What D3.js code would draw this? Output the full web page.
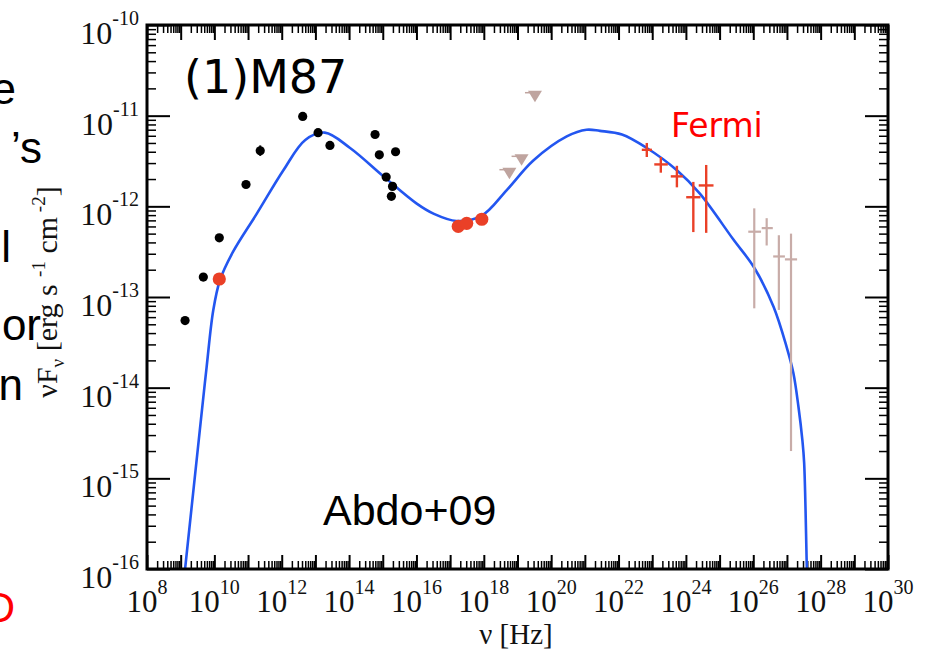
<!DOCTYPE html>
<html>
<head>
<meta charset="utf-8">
<script src="https://cdn.jsdelivr.net/npm/d3@7/dist/d3.min.js"></script>
<style>
  html, body { margin: 0; padding: 0; background: #fff; }
  svg { display: block; }
</style>
</head>
<body>
<svg id="chart" width="927" height="651"></svg>
<script>
// ---------------- DATA ----------------
const xDecades = d3.range(8, 31);            // 10^8 .. 10^30
const xLabelExps = [8, 10, 12, 14, 16, 18, 20, 22, 24, 26, 28, 30];
const yDecades = d3.range(-16, -9);          // 10^-16 .. 10^-10
const yLabelExps = [-10, -11, -12, -13, -14, -15, -16];

// black archival points [nu, nuFnu]
const blackNu = [1.35e9, 4.7e9, 1.4e10, 8.7e10, 2.3e11, 4.2e12, 1.2e13, 2.7e13, 5.9e14, 7.9e14, 2.4e15, 1.26e15, 1.95e15, 1.8e15];
const blackF  = [5.5e-14, 1.66e-13, 4.5e-13, 1.74e-12, 4.1e-12, 9.8e-12, 6.5e-12, 4.7e-12, 6.2e-12, 3.7e-12, 4.0e-12, 2.1e-12, 1.66e-12, 1.29e-12];
const blackErrIndex = 4, blackErrLo = 3.6e-12, blackErrHi = 4.7e-12;

// red simultaneous points
const redNu = [1.4e10, 1.74e17, 3.1e17, 8.7e17];
const redF  = [1.58e-13, 6.0e-13, 6.5e-13, 7.2e-13];

// upper limits (down triangles)
const ulNu = [5.75e18, 1.32e19, 3.3e19];
const ulF  = [2.35e-12, 3.3e-12, 1.66e-11];

// Fermi-LAT points
const fermiNu   = [6.9e22, 1.8e23, 5.4e23, 1.66e24, 4.0e24];
const fermiF    = [4.2e-12, 2.9e-12, 2.14e-12, 1.26e-12, 1.7e-12];
const fermiNuLo = [4.9e22, 1.15e23, 3.55e23, 1.02e24, 2.4e24];
const fermiNuHi = [9.8e22, 2.9e23, 8.1e23, 2.7e24, 6.6e24];
const fermiFLo  = [3.5e-12, 2.35e-12, 1.62e-12, 5.2e-13, 5.1e-13];
const fermiFHi  = [5.0e-12, 3.5e-12, 2.8e-12, 1.86e-12, 2.86e-12];

// TeV points
const tevNu   = [1.07e26, 2.5e26, 5.75e26, 1.32e27];
const tevF    = [5.25e-13, 5.75e-13, 2.8e-13, 2.6e-13];
const tevNuLo = [7.1e25, 1.78e26, 3.9e26, 8.7e26];
const tevNuHi = [1.7e26, 3.8e26, 8.7e26, 2.0e27];
const tevFLo  = [7.5e-14, 3.7e-13, 7.2e-14, 2.0e-15];
const tevFHi  = [9.5e-13, 7.4e-13, 4.8e-13, 5.0e-13];

// model SED curve
const modelNu = [1.12e9, 1.35e9, 3.7e9, 5.9e9, 9.3e9, 1.48e10, 3.6e10, 1.82e11, 1.12e12, 5.0e12, 1.9e13, 1.07e14, 1.05e15, 1.02e16, 3.2e16, 1.55e17, 8.7e17, 4.8e18, 2.95e19, 2.9e20, 1.12e21, 2.8e21, 1.26e22, 6.9e22, 5.4e23, 2.6e24, 2.57e25, 1.07e26, 4.0e26, 9.8e26, 1.55e27, 2.19e27, 2.88e27, 3.24e27, 3.9e27, 4.2e27];
const modelF  = [5.2e-17, 1.0e-16, 3.4e-15, 1.7e-14, 7.2e-14, 1.55e-13, 3.16e-13, 8.3e-13, 2.5e-12, 5.4e-12, 6.5e-12, 4.4e-12, 2.14e-12, 1.07e-12, 8.3e-13, 6.9e-13, 7.9e-13, 1.51e-12, 3.2e-12, 5.9e-12, 7.0e-12, 6.8e-12, 6.2e-12, 4.4e-12, 2.5e-12, 1.38e-12, 4.3e-13, 2.1e-13, 7.8e-14, 2.8e-14, 1.45e-14, 6.2e-15, 2.6e-15, 1.48e-15, 1.0e-16, 4.0e-17];

// ---------------- LAYOUT ----------------
const svg = d3.select("#chart");
const L = 147, R = 888, T = 25, B = 569;
const x = d3.scaleLog().domain([1e8, 1e30]).range([L, R]);
const y = d3.scaleLog().domain([1e-16, 1e-10]).range([B, T]);

svg.append("rect").attr("width", 927).attr("height", 651).attr("fill", "#fff");

// slide-text fragments at left edge (cut off in the reference too)
const slide = svg.append("g").attr("font-family", "'Liberation Sans', Arial, sans-serif").attr("font-size", 44).attr("text-anchor", "end");
slide.append("text").attr("x", 16).attr("y", 104).text("e");
slide.append("text").attr("x", 42).attr("y", 163).text("\u2019s");
slide.append("text").attr("x", 11).attr("y", 262).text("l");
slide.append("text").attr("x", 41).attr("y", 340).text("or");
slide.append("text").attr("x", 23).attr("y", 400).text("n");
slide.append("text").attr("x", 15).attr("y", 622).attr("fill", "#ff0000").attr("font-size", 42).text("D");

// minor tick values
const xMinor = [];
xDecades.slice(0, -1).forEach(e => { for (let k = 2; k <= 9; k++) xMinor.push(k * Math.pow(10, e)); });
const yMinor = [];
yDecades.slice(0, -1).forEach(e => { for (let k = 2; k <= 9; k++) yMinor.push(k * Math.pow(10, e)); });
const xMajor = xDecades.map(e => Math.pow(10, e));
const yMajor = yDecades.map(e => Math.pow(10, e));

function axisG(axis, tx, ty, sw) {
  const g = svg.append("g").attr("transform", `translate(${tx},${ty})`).call(axis);
  g.select(".domain").remove();
  g.selectAll(".tick line").attr("stroke", "#000").attr("stroke-width", sw);
  g.selectAll(".tick text").remove();
  return g;
}
axisG(d3.axisBottom(x).tickValues(xMajor).tickSizeInner(-14).tickSizeOuter(0).tickFormat(""), 0, B, 2);
axisG(d3.axisBottom(x).tickValues(xMinor).tickSizeInner(-8).tickSizeOuter(0).tickFormat(""), 0, B, 1.5);
axisG(d3.axisTop(x).tickValues(xMajor).tickSizeInner(-15).tickSizeOuter(0).tickFormat(""), 0, T, 2);
axisG(d3.axisTop(x).tickValues(xMinor).tickSizeInner(-8).tickSizeOuter(0).tickFormat(""), 0, T, 1.5);
axisG(d3.axisLeft(y).tickValues(yMajor).tickSizeInner(-23).tickSizeOuter(0).tickFormat(""), L, 0, 2);
axisG(d3.axisLeft(y).tickValues(yMinor).tickSizeInner(-9).tickSizeOuter(0).tickFormat(""), L, 0, 1.5);
axisG(d3.axisRight(y).tickValues(yMajor).tickSizeInner(-23).tickSizeOuter(0).tickFormat(""), R, 0, 2);
axisG(d3.axisRight(y).tickValues(yMinor).tickSizeInner(-9).tickSizeOuter(0).tickFormat(""), R, 0, 1.5);

// tick labels
const serif = "'Liberation Serif', 'Times New Roman', serif";
const xl = svg.append("g").attr("font-family", serif).attr("fill", "#111");
xLabelExps.forEach(e => {
  const t = xl.append("text").attr("x", x(Math.pow(10, e))).attr("y", 612).attr("text-anchor", "middle");
  t.append("tspan").attr("font-size", 31).text("10");
  t.append("tspan").attr("font-size", 20).attr("dy", -18).text(e);
});
const yl = svg.append("g").attr("font-family", serif).attr("fill", "#111");
yLabelExps.forEach(e => {
  const t = yl.append("text").attr("x", 139).attr("y", y(Math.pow(10, e)) + 19).attr("text-anchor", "end");
  t.append("tspan").attr("font-size", 32).text("10");
  t.append("tspan").attr("font-size", 20).attr("dy", -19).text("-" + Math.abs(e));
});

// axis titles
const xt = svg.append("text").attr("x", 516).attr("y", 644).attr("text-anchor", "middle")
  .attr("font-family", serif).attr("font-size", 29).attr("fill", "#111");
xt.text("\u03bd [Hz]");

const yt = svg.append("text").attr("transform", "translate(57,292) rotate(-90)").attr("text-anchor", "middle")
  .attr("font-family", serif).attr("font-size", 30).attr("fill", "#111");
yt.append("tspan").text("\u03bdF");
yt.append("tspan").attr("font-size", 19).attr("dy", 7).text("\u03bd");
yt.append("tspan").attr("dy", -7).text(" [erg s ");
yt.append("tspan").attr("font-size", 19).attr("dy", -12).text("-1");
yt.append("tspan").attr("dy", 12).text(" cm");
yt.append("tspan").attr("font-size", 19).attr("dy", -12).text(" -2");
yt.append("tspan").attr("dy", 12).text("]");

// clip
svg.append("clipPath").attr("id", "plotclip").append("rect")
  .attr("x", L).attr("y", T).attr("width", R - L).attr("height", B - T);
const plot = svg.append("g").attr("clip-path", "url(#plotclip)");

// model curve
const modelPts = modelNu.map((v, i) => [v, modelF[i]]);
plot.append("path").datum(modelPts)
  .attr("fill", "none").attr("stroke", "#2356f0").attr("stroke-width", 2.6)
  .attr("d", d3.line().x(d => x(d[0])).y(d => y(d[1])).curve(d3.curveCatmullRom.alpha(0.5)));

// black points
const blackPts = blackNu.map((v, i) => [v, blackF[i]]);
plot.append("line")
  .attr("x1", x(blackNu[blackErrIndex])).attr("x2", x(blackNu[blackErrIndex]))
  .attr("y1", y(blackErrLo)).attr("y2", y(blackErrHi))
  .attr("stroke", "#000").attr("stroke-width", 2);
plot.selectAll("circle.blk").data(blackPts).enter().append("circle")
  .attr("class", "blk").attr("cx", d => x(d[0])).attr("cy", d => y(d[1])).attr("r", 4.6).attr("fill", "#000");

// red points
const redPts = redNu.map((v, i) => [v, redF[i]]);
plot.selectAll("circle.red").data(redPts).enter().append("circle")
  .attr("class", "red").attr("cx", d => x(d[0])).attr("cy", d => y(d[1])).attr("r", 6.6).attr("fill", "#ea4027");

// upper limits
const ulCol = "#bfa49f";
const ulPts = ulNu.map((v, i) => [v, ulF[i]]);
const ulG = plot.selectAll("g.ul").data(ulPts).enter().append("g").attr("class", "ul")
  .attr("transform", d => `translate(${x(d[0])},${y(d[1])})`);
ulG.append("path").attr("d", "M-7,-5 L7,-5 L0,6.5 Z").attr("fill", ulCol);
ulG.append("line").attr("x1", -10).attr("x2", 0).attr("y1", -3).attr("y2", -3).attr("stroke", ulCol).attr("stroke-width", 1.5);

// error-bar crosses
function crosses(nu, f, nuLo, nuHi, fLo, fHi, col, sw) {
  const g = plot.append("g").attr("stroke", col).attr("stroke-width", sw);
  nu.forEach((v, i) => {
    g.append("line").attr("x1", x(nuLo[i])).attr("x2", x(nuHi[i])).attr("y1", y(f[i])).attr("y2", y(f[i]));
    g.append("line").attr("x1", x(v)).attr("x2", x(v)).attr("y1", y(fLo[i])).attr("y2", y(fHi[i]));
  });
}
crosses(tevNu, tevF, tevNuLo, tevNuHi, tevFLo, tevFHi, "#c8aca8", 2.2);
crosses(fermiNu, fermiF, fermiNuLo, fermiNuHi, fermiFLo, fermiFHi, "#ea4027", 2.4);

// frame
svg.append("rect").attr("x", L).attr("y", T).attr("width", R - L).attr("height", B - T)
  .attr("fill", "none").attr("stroke", "#000").attr("stroke-width", 3);

// annotations
svg.append("text").attr("x", 184).attr("y", 93).attr("font-family", "'DejaVu Sans', sans-serif")
  .attr("font-size", 46).attr("fill", "#000").text("(1)M87");
svg.append("text").attr("x", 671).attr("y", 137).attr("font-family", "'DejaVu Sans', sans-serif")
  .attr("font-size", 33).attr("fill", "#ff0000").text("Fermi");
svg.append("text").attr("x", 323).attr("y", 525).attr("font-family", "'Liberation Sans', Arial, sans-serif")
  .attr("font-size", 43).attr("fill", "#000").text("Abdo+09");
</script>
</body>
</html>
